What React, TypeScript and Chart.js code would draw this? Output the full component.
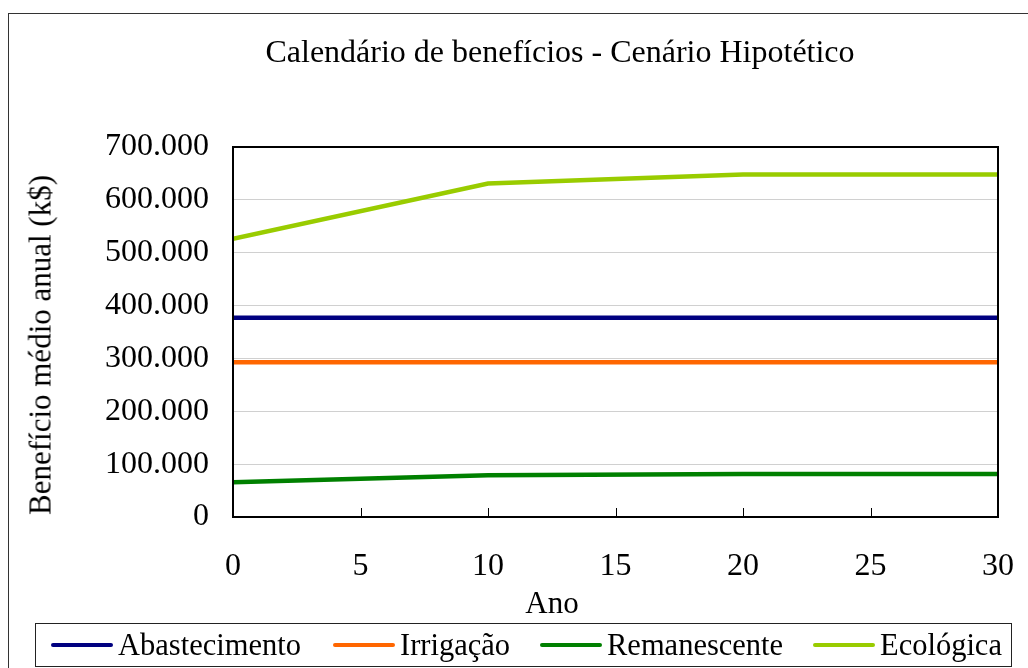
import React, { useEffect, useRef } from "react";
import { Chart, registerables } from "chart.js";

Chart.register(...registerables);

const chartTitle = "Calendário de benefícios - Cenário Hipotético";
const xAxisTitle = "Ano";
const yAxisTitle = "Benefício médio anual (k$)";

const years = [0, 10, 20, 30];
const seriesNames = ["Abastecimento", "Irrigação", "Remanescente", "Ecológica"];
const abastecimento = [377000, 377000, 377000, 377000];
const irrigacao = [292600, 292600, 292600, 292600];
const remanescente = [65600, 79000, 81300, 81300];
const ecologica = [526500, 631000, 648000, 648000];
const seriesColors = ["#000080", "#FF6600", "#008000", "#99CC00"];

const xMin = 0;
const xMax = 30;
const xStep = 5;
const yMin = 0;
const yMax = 700000;
const yStep = 100000;

// legend layout (left offsets of each entry inside the legend box)
const legendItemLefts = [15, 297, 504, 777];

const FONT = "'Liberation Serif', 'Times New Roman', serif";

const formatThousands = (v: number) => {
  if (v === 0) return "0";
  const s = Math.round(v).toString();
  return s.replace(/\B(?=(\d{3})+(?!\d))/g, ".");
};

const framePlugin = {
  id: "frame",
  afterDatasetsDraw(chart: any) {
    const { ctx, chartArea: a, scales } = chart;
    ctx.save();
    ctx.strokeStyle = "#000";
    ctx.lineWidth = 1;
    scales.x.ticks.forEach((t: any) => {
      const px = Math.round(scales.x.getPixelForValue(t.value)) + 0.5;
      ctx.beginPath();
      ctx.moveTo(px, a.bottom);
      ctx.lineTo(px, a.bottom - 9);
      ctx.stroke();
    });
    ctx.lineWidth = 2;
    ctx.strokeRect(a.left, a.top, a.right - a.left, a.bottom - a.top);
    ctx.restore();
  },
};

export default function App() {
  const canvasRef = useRef<HTMLCanvasElement | null>(null);

  useEffect(() => {
    const canvas = canvasRef.current;
    if (!canvas) return;
    const allSeries = [abastecimento, irrigacao, remanescente, ecologica];
    const chart = new Chart(canvas, {
      type: "line",
      data: {
        datasets: allSeries.map((vals, i) => ({
          label: seriesNames[i],
          data: years.map((x, j) => ({ x, y: vals[j] })),
          borderColor: seriesColors[i],
          backgroundColor: seriesColors[i],
          borderWidth: 4.5,
          pointRadius: 0,
          pointHoverRadius: 0,
          tension: 0,
          fill: false,
        })),
      },
      options: {
        animation: false,
        responsive: false,
        maintainAspectRatio: false,
        layout: { padding: { left: 0, right: 30, top: 147, bottom: 0 } },
        plugins: {
          legend: { display: false },
          title: { display: false },
          tooltip: { enabled: false },
        },
        scales: {
          x: {
            type: "linear",
            min: xMin,
            max: xMax,
            ticks: {
              stepSize: xStep,
              font: { family: FONT, size: 32 },
              color: "#000",
              padding: 0,
              maxRotation: 0,
            },
            grid: {
              drawOnChartArea: false,
              drawTicks: true,
              tickLength: 30,
              tickColor: "rgba(0,0,0,0)",
            },
            border: { display: true, color: "#000", width: 2 },
            afterFit: (s: any) => {
              s.height = 151;
            },
          },
          y: {
            type: "linear",
            min: yMin,
            max: yMax,
            ticks: {
              stepSize: yStep,
              font: { family: FONT, size: 32 },
              color: "#000",
              padding: 24,
              callback: (v: any) => formatThousands(Number(v)),
            },
            grid: { color: "#d0d0d0", lineWidth: 1, drawTicks: false },
            border: { display: true, color: "#000", width: 2 },
            afterFit: (s: any) => {
              s.width = 233;
            },
          },
        },
      },
      plugins: [framePlugin],
    });
    return () => chart.destroy();
  }, []);

  return (
    <div
      style={{
        position: "fixed",
        left: 0,
        top: 0,
        width: 1028,
        height: 668,
        overflow: "hidden",
        background: "#fff",
        fontFamily: FONT,
        color: "#000",
      }}
    >
      <div
        style={{
          position: "absolute",
          left: 8,
          top: 13,
          width: 1200,
          height: 800,
          border: "1px solid #333",
          boxSizing: "border-box",
        }}
      />
      <canvas
        ref={canvasRef}
        width={1028}
        height={668}
        style={{ position: "absolute", left: 0, top: 0, width: 1028, height: 668 }}
      />
      <div
        style={{
          position: "absolute",
          left: 560,
          top: 35,
          transform: "translateX(-50%)",
          fontSize: 32,
          lineHeight: "32px",
          whiteSpace: "nowrap",
        }}
      >
        {chartTitle}
      </div>
      <div
        style={{
          position: "absolute",
          left: 552,
          top: 587,
          transform: "translateX(-50%)",
          fontSize: 31,
          lineHeight: "31px",
          whiteSpace: "nowrap",
        }}
      >
        {xAxisTitle}
      </div>
      <div
        style={{
          position: "absolute",
          left: 39.5,
          top: 345,
          transform: "translate(-50%, -50%) rotate(-90deg)",
          fontSize: 31,
          lineHeight: "31px",
          whiteSpace: "nowrap",
        }}
      >
        {yAxisTitle}
      </div>
      <div
        style={{
          position: "absolute",
          left: 35,
          top: 623,
          width: 977,
          height: 44,
          border: "1px solid #222",
          boxSizing: "border-box",
        }}
      >
        {seriesNames.map((name, i) => (
          <div
            key={name}
            style={{
              position: "absolute",
              left: legendItemLefts[i],
              top: 0,
              height: 42,
              display: "flex",
              alignItems: "center",
            }}
          >
            <span
              style={{
                display: "inline-block",
                width: 62,
                height: 4.5,
                borderRadius: 2.25,
                background: seriesColors[i],
                marginRight: 5,
              }}
            />
            <span style={{ fontSize: 30.5, lineHeight: "30px", whiteSpace: "nowrap" }}>{name}</span>
          </div>
        ))}
      </div>
    </div>
  );
}
